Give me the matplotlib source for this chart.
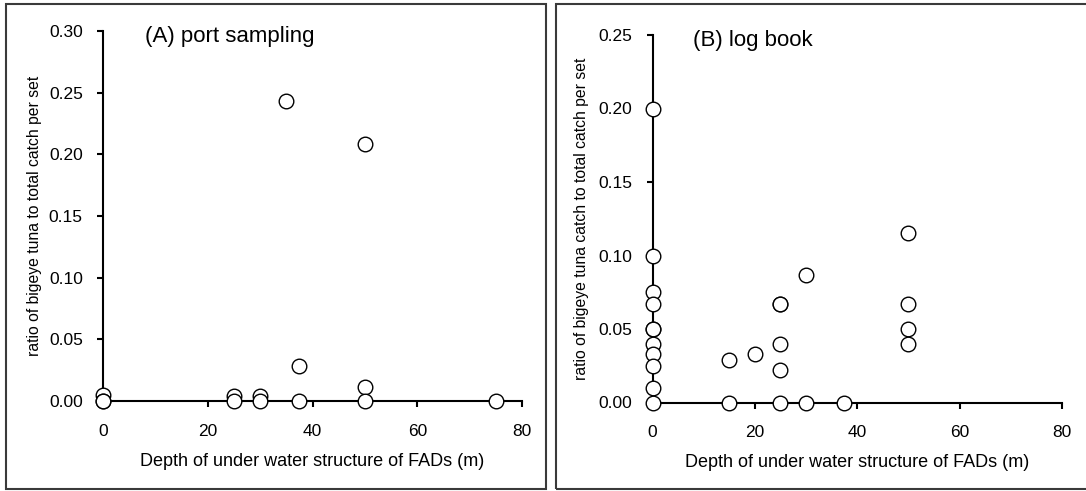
import matplotlib
matplotlib.use("Agg")
import matplotlib.pyplot as plt
from matplotlib.patches import Rectangle

plt.rcParams['font.family'] = ['Liberation Sans', 'DejaVu Sans']

# (A) port sampling
depth_a = [0, 0, 0, 25, 25, 30, 30, 35, 37.5, 37.5, 50, 50, 50, 75]
ratio_a = [0.005, 0.0, 0.0, 0.004, 0.0, 0.004, 0.0, 0.243, 0.028, 0.0, 0.208, 0.011, 0.0, 0.0]

# (B) log book
depth_b = [0, 0, 0, 0, 0, 0, 0, 0, 0, 0, 0,
           15, 15, 20, 25, 25, 25, 25, 25, 30, 30, 37.5,
           50, 50, 50, 50]
ratio_b = [0.20, 0.10, 0.075, 0.067, 0.05, 0.05, 0.04, 0.033, 0.025, 0.01, 0.0,
           0.029, 0.0, 0.033, 0.067, 0.067, 0.04, 0.022, 0.0, 0.087, 0.0, 0.0,
           0.115, 0.067, 0.05, 0.04]

xticks = [0, 20, 40, 60, 80]
yticks_a = [0.00, 0.05, 0.10, 0.15, 0.20, 0.25, 0.30]
yticks_b = [0.00, 0.05, 0.10, 0.15, 0.20, 0.25]

fig = plt.figure(figsize=(10.86, 4.91), dpi=100)

# panel frames
for x0, w in ((6 / 1086, 540 / 1086), (556 / 1086, 540 / 1086)):
    fig.patches.append(Rectangle((x0, 2 / 491), w, 485 / 491, transform=fig.transFigure,
                                 fill=False, ec='#3a3a3a', lw=1.5))

ax1 = fig.add_axes([103 / 1086, 1 - 401 / 491, 419 / 1086, 370 / 491])
ax2 = fig.add_axes([652.5 / 1086, 1 - 402.5 / 491, 409.5 / 1086, 367.5 / 491])

panels = [
    (ax1, depth_a, ratio_a, yticks_a, 0.30, '(A) port sampling',
     'ratio of bigeye tuna to total catch per set', -0.146),
    (ax2, depth_b, ratio_b, yticks_b, 0.25, '(B) log book',
     'ratio of bigeye tuna catch to total catch per set', -0.155),
]

for ax, xs, ys, yt, ymax, title, ylab, ylx in panels:
    ax.plot(xs, ys, 'o', ms=10.5, mfc='white', mec='black', mew=1.0,
            clip_on=False, zorder=5)
    ax.set_xlim(0, 80)
    ax.set_ylim(0, ymax)
    ax.set_xticks(xticks)
    ax.set_yticks(yt)
    ax.set_yticklabels([f'{v:.2f}' for v in yt])
    for sp in ('top', 'right'):
        ax.spines[sp].set_visible(False)
    for sp in ('left', 'bottom'):
        ax.spines[sp].set_linewidth(1.5)
    ax.tick_params(axis='both', direction='out', length=4.5, width=1.5, labelsize=12.5)
    ax.tick_params(axis='x', pad=12)
    ax.tick_params(axis='y', pad=10)
    ax.set_xlabel('Depth of under water structure of FADs (m)', fontsize=13)
    ax.xaxis.set_label_coords(0.5, -0.141)
    ax.set_ylabel(ylab, fontsize=11.3)
    ax.yaxis.set_label_coords(ylx, 0.5)
    ax.text(0.1, 0.985, title, transform=ax.transAxes, fontsize=16,
            ha='left', va='center')

fig.savefig('out.png', dpi=100)
